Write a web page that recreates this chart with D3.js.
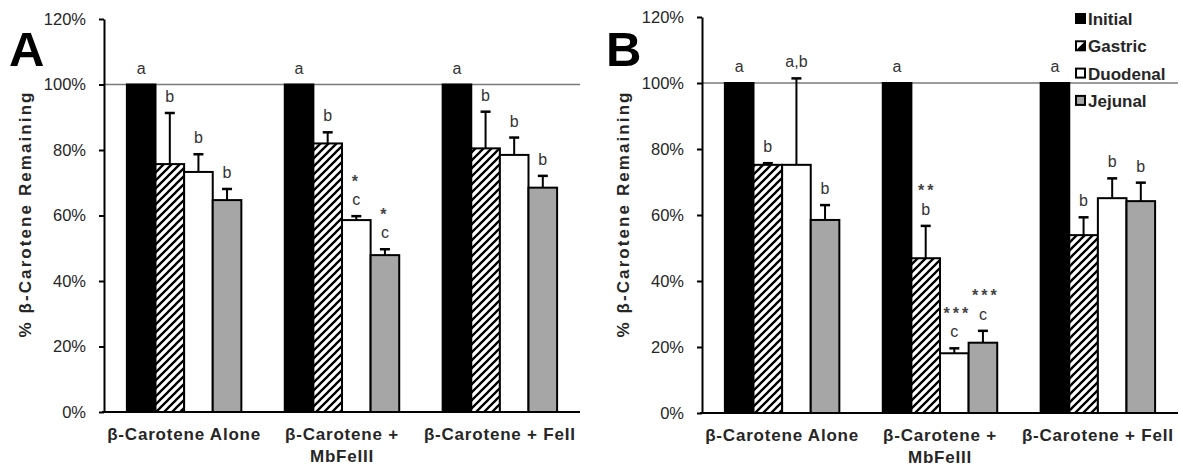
<!DOCTYPE html>
<html><head><meta charset="utf-8">
<script src="https://cdn.jsdelivr.net/npm/d3@7"></script>
<style>
body{margin:0;background:#fff}
svg{display:block}
text{font-family:Arial,"Liberation Sans",sans-serif}
</style>
</head><body>
<svg id="c" width="1181" height="468"></svg>
<script>
// ---------- DATA ----------
const categories = ["β-Carotene Alone", "β-Carotene + MbFeIII", "β-Carotene + FeII"];
const categoryLines = [["β-Carotene Alone"], ["β-Carotene +", "MbFeIII"], ["β-Carotene + FeII"]];
const series = ["Initial", "Gastric", "Duodenal", "Jejunal"];
const yTicks = [0, 20, 40, 60, 80, 100, 120];
const referenceValue = 100;

// Panel A
const initialA = [100, 100, 100];
const gastricA = [75.7, 82.0, 80.5];
const duodenalA = [73.3, 58.6, 78.5];
const jejunalA = [64.7, 47.9, 68.5];
const initialErrA = [0, 0, 0];
const gastricErrA = [15.6, 3.4, 11.2];
const duodenalErrA = [5.4, 1.2, 5.3];
const jejunalErrA = [3.4, 1.8, 3.6];
const initialLetA = ["a", "a", "a"];
const gastricLetA = ["b", "b", "b"];
const duodenalLetA = ["b", "c", "b"];
const jejunalLetA = ["b", "c", "b"];
const initialStarA = ["", "", ""];
const gastricStarA = ["", "", ""];
const duodenalStarA = ["", "*", ""];
const jejunalStarA = ["", "*", ""];

// Panel B
const initialB = [100, 100, 100];
const gastricB = [75.2, 46.9, 53.9];
const duodenalB = [75.2, 18.1, 65.1];
const jejunalB = [58.5, 21.3, 64.2];
const initialErrB = [0, 0, 0];
const gastricErrB = [0.5, 9.8, 5.4];
const duodenalErrB = [26.2, 1.5, 6.0];
const jejunalErrB = [4.5, 3.6, 5.6];
const initialLetB = ["a", "a", "a"];
const gastricLetB = ["b", "b", "b"];
const duodenalLetB = ["a,b", "c", "b"];
const jejunalLetB = ["b", "c", "b"];
const initialStarB = ["", "", ""];
const gastricStarB = ["", "**", ""];
const duodenalStarB = ["", "***", ""];
const jejunalStarB = ["", "***", ""];

// ---------- DRAWING ----------
const svg = d3.select("#c");
svg.append("rect").attr("width", 1181).attr("height", 468).attr("fill", "#fff");

const defs = svg.append("defs");
const pat = defs.append("pattern").attr("id", "hatch")
  .attr("patternUnits", "userSpaceOnUse").attr("width", 8).attr("height", 8);
pat.append("rect").attr("width", 8).attr("height", 8).attr("fill", "#fff");
pat.append("path").attr("d", "M-2,2 L2,-2 M0,8 L8,0 M6,10 L10,6")
  .attr("stroke", "#000").attr("stroke-width", 2.3);

const fills = {Initial: "#000", Gastric: "url(#hatch)", Duodenal: "#fff", Jejunal: "#a6a6a6"};

function drawPanel(cfg) {
  const g = svg.append("g");
  const x0 = d3.scaleBand().domain(categories).range([cfg.left, cfg.right])
    .paddingInner(0.275).paddingOuter(0.145);
  const x1 = d3.scaleBand().domain(series).range([0, x0.bandwidth()]).padding(0);
  const y = d3.scaleLinear().domain([0, 120]).range([cfg.bottom, cfg.top]);

  // reference line
  g.append("line").attr("x1", cfg.left).attr("x2", cfg.right)
    .attr("y1", y(referenceValue)).attr("y2", y(referenceValue))
    .attr("stroke", "#7a7a7a").attr("stroke-width", 1.6);

  const rows = [];
  series.forEach((s, si) => {
    categories.forEach((c, ci) => {
      rows.push({s, c, v: cfg.vals[si][ci], e: cfg.errs[si][ci],
        l: cfg.lets[si][ci], st: cfg.stars[si][ci]});
    });
  });
  const cx = d => x0(d.c) + x1(d.s) + x1.bandwidth() / 2;

  // bars
  g.selectAll("rect.bar").data(rows).join("rect").attr("class", "bar")
    .attr("x", d => x0(d.c) + x1(d.s))
    .attr("width", x1.bandwidth())
    .attr("y", d => y(d.v))
    .attr("height", d => y(0) - y(d.v))
    .attr("fill", d => fills[d.s])
    .attr("stroke", "#000").attr("stroke-width", 2);

  // error bars
  const eb = rows.filter(d => d.e > 0);
  g.selectAll("line.err").data(eb).join("line").attr("class", "err")
    .attr("x1", cx).attr("x2", cx)
    .attr("y1", d => y(d.v)).attr("y2", d => y(d.v + d.e))
    .attr("stroke", "#000").attr("stroke-width", 2);
  g.selectAll("line.cap").data(eb).join("line").attr("class", "cap")
    .attr("x1", d => cx(d) - 5).attr("x2", d => cx(d) + 5)
    .attr("y1", d => y(d.v + d.e)).attr("y2", d => y(d.v + d.e))
    .attr("stroke", "#000").attr("stroke-width", 2.5);

  // letters
  g.selectAll("text.let").data(rows).join("text").attr("class", "let")
    .attr("x", cx)
    .attr("y", d => y(d.v + d.e) - 11)
    .attr("text-anchor", "middle").attr("font-size", 16).attr("fill", "#333")
    .text(d => d.l);
  g.selectAll("text.star").data(rows.filter(d => d.st)).join("text").attr("class", "star")
    .attr("x", d => cx(d) + (d.st.length - 1) * 1.5)
    .attr("y", d => y(d.v + d.e) - 29.5)
    .attr("text-anchor", "middle").attr("font-size", 16).attr("font-weight", "bold")
    .attr("letter-spacing", 3).attr("fill", "#444")
    .text(d => d.st);

  // y axis
  const ax = g.append("g").attr("transform", `translate(${cfg.left},0)`)
    .call(d3.axisLeft(y).tickValues(yTicks).tickFormat(d => d + "%")
      .tickSize(5).tickSizeOuter(0).tickPadding(13));
  ax.select(".domain").attr("stroke", "#000").attr("stroke-width", 2);
  ax.selectAll(".tick line").attr("stroke", "#000").attr("stroke-width", 2);
  ax.selectAll(".tick text").attr("font-size", 16.5).attr("fill", "#262626")
    .attr("font-family", "Arial, 'Liberation Sans', sans-serif");

  // x axis line
  g.append("line").attr("x1", cfg.left - 2).attr("x2", cfg.right)
    .attr("y1", y(0)).attr("y2", y(0)).attr("stroke", "#000").attr("stroke-width", 2.2);

  // category labels
  categories.forEach((c, ci) => {
    const t = g.append("text").attr("text-anchor", "middle")
      .attr("font-size", 17).attr("font-weight", "bold").attr("fill", "#262626")
      .attr("letter-spacing", 0.8);
    categoryLines[ci].forEach((ln, li) => {
      t.append("tspan").attr("x", x0(c) + x0.bandwidth() / 2)
        .attr("y", y(0) + 28 + li * 22).text(ln);
    });
  });

  // y title
  g.append("text")
    .attr("transform", `translate(${cfg.titleX},${cfg.titleY}) rotate(-90)`)
    .attr("text-anchor", "middle").attr("dy", "0.35em")
    .attr("font-size", 17).attr("font-weight", "bold").attr("fill", "#262626")
    .attr("textLength", 245).attr("lengthAdjust", "spacing")
    .text("% β-Carotene Remaining");

  // panel letter
  g.append("text").attr("x", cfg.letterX).attr("y", 66)
    .attr("font-size", 49).attr("font-weight", "bold").attr("fill", "#000")
    .text(cfg.letter);
  return {x0, x1, y, g};
}

drawPanel({
  left: 104, right: 580, top: 19, bottom: 412, titleX: 25, titleY: 215,
  letter: "A", letterX: 9,
  vals: [initialA, gastricA, duodenalA, jejunalA],
  errs: [initialErrA, gastricErrA, duodenalErrA, jejunalErrA],
  lets: [initialLetA, gastricLetA, duodenalLetA, jejunalLetA],
  stars: [initialStarA, gastricStarA, duodenalStarA, jejunalStarA]
});
drawPanel({
  left: 702, right: 1178, top: 17, bottom: 413, titleX: 623, titleY: 215,
  letter: "B", letterX: 606,
  vals: [initialB, gastricB, duodenalB, jejunalB],
  errs: [initialErrB, gastricErrB, duodenalErrB, jejunalErrB],
  lets: [initialLetB, gastricLetB, duodenalLetB, jejunalLetB],
  stars: [initialStarB, gastricStarB, duodenalStarB, jejunalStarB]
});

// legend (panel B)
const lg = svg.append("g");
lg.append("rect").attr("x", 1063).attr("y", 2).attr("width", 116).attr("height", 79).attr("fill", "#fff");
series.forEach((s, i) => {
  const yy = 25 + i * 27.3;
  lg.append("rect").attr("x", 1076).attr("y", yy - 11).attr("width", 9).attr("height", 9)
    .attr("fill", s === "Gastric" ? "#000" : fills[s]).attr("stroke", "#000").attr("stroke-width", 2);
  if (s === "Gastric") {
    lg.append("path").attr("d", `M1077,${yy - 3} L1077,${yy - 10} L1084,${yy - 10} Z`).attr("fill", "#fff");
  }
  lg.append("text").attr("x", 1088).attr("y", yy)
    .attr("font-size", 17).attr("font-weight", "bold").attr("fill", "#262626").text(s);
});
</script>
</body></html>
